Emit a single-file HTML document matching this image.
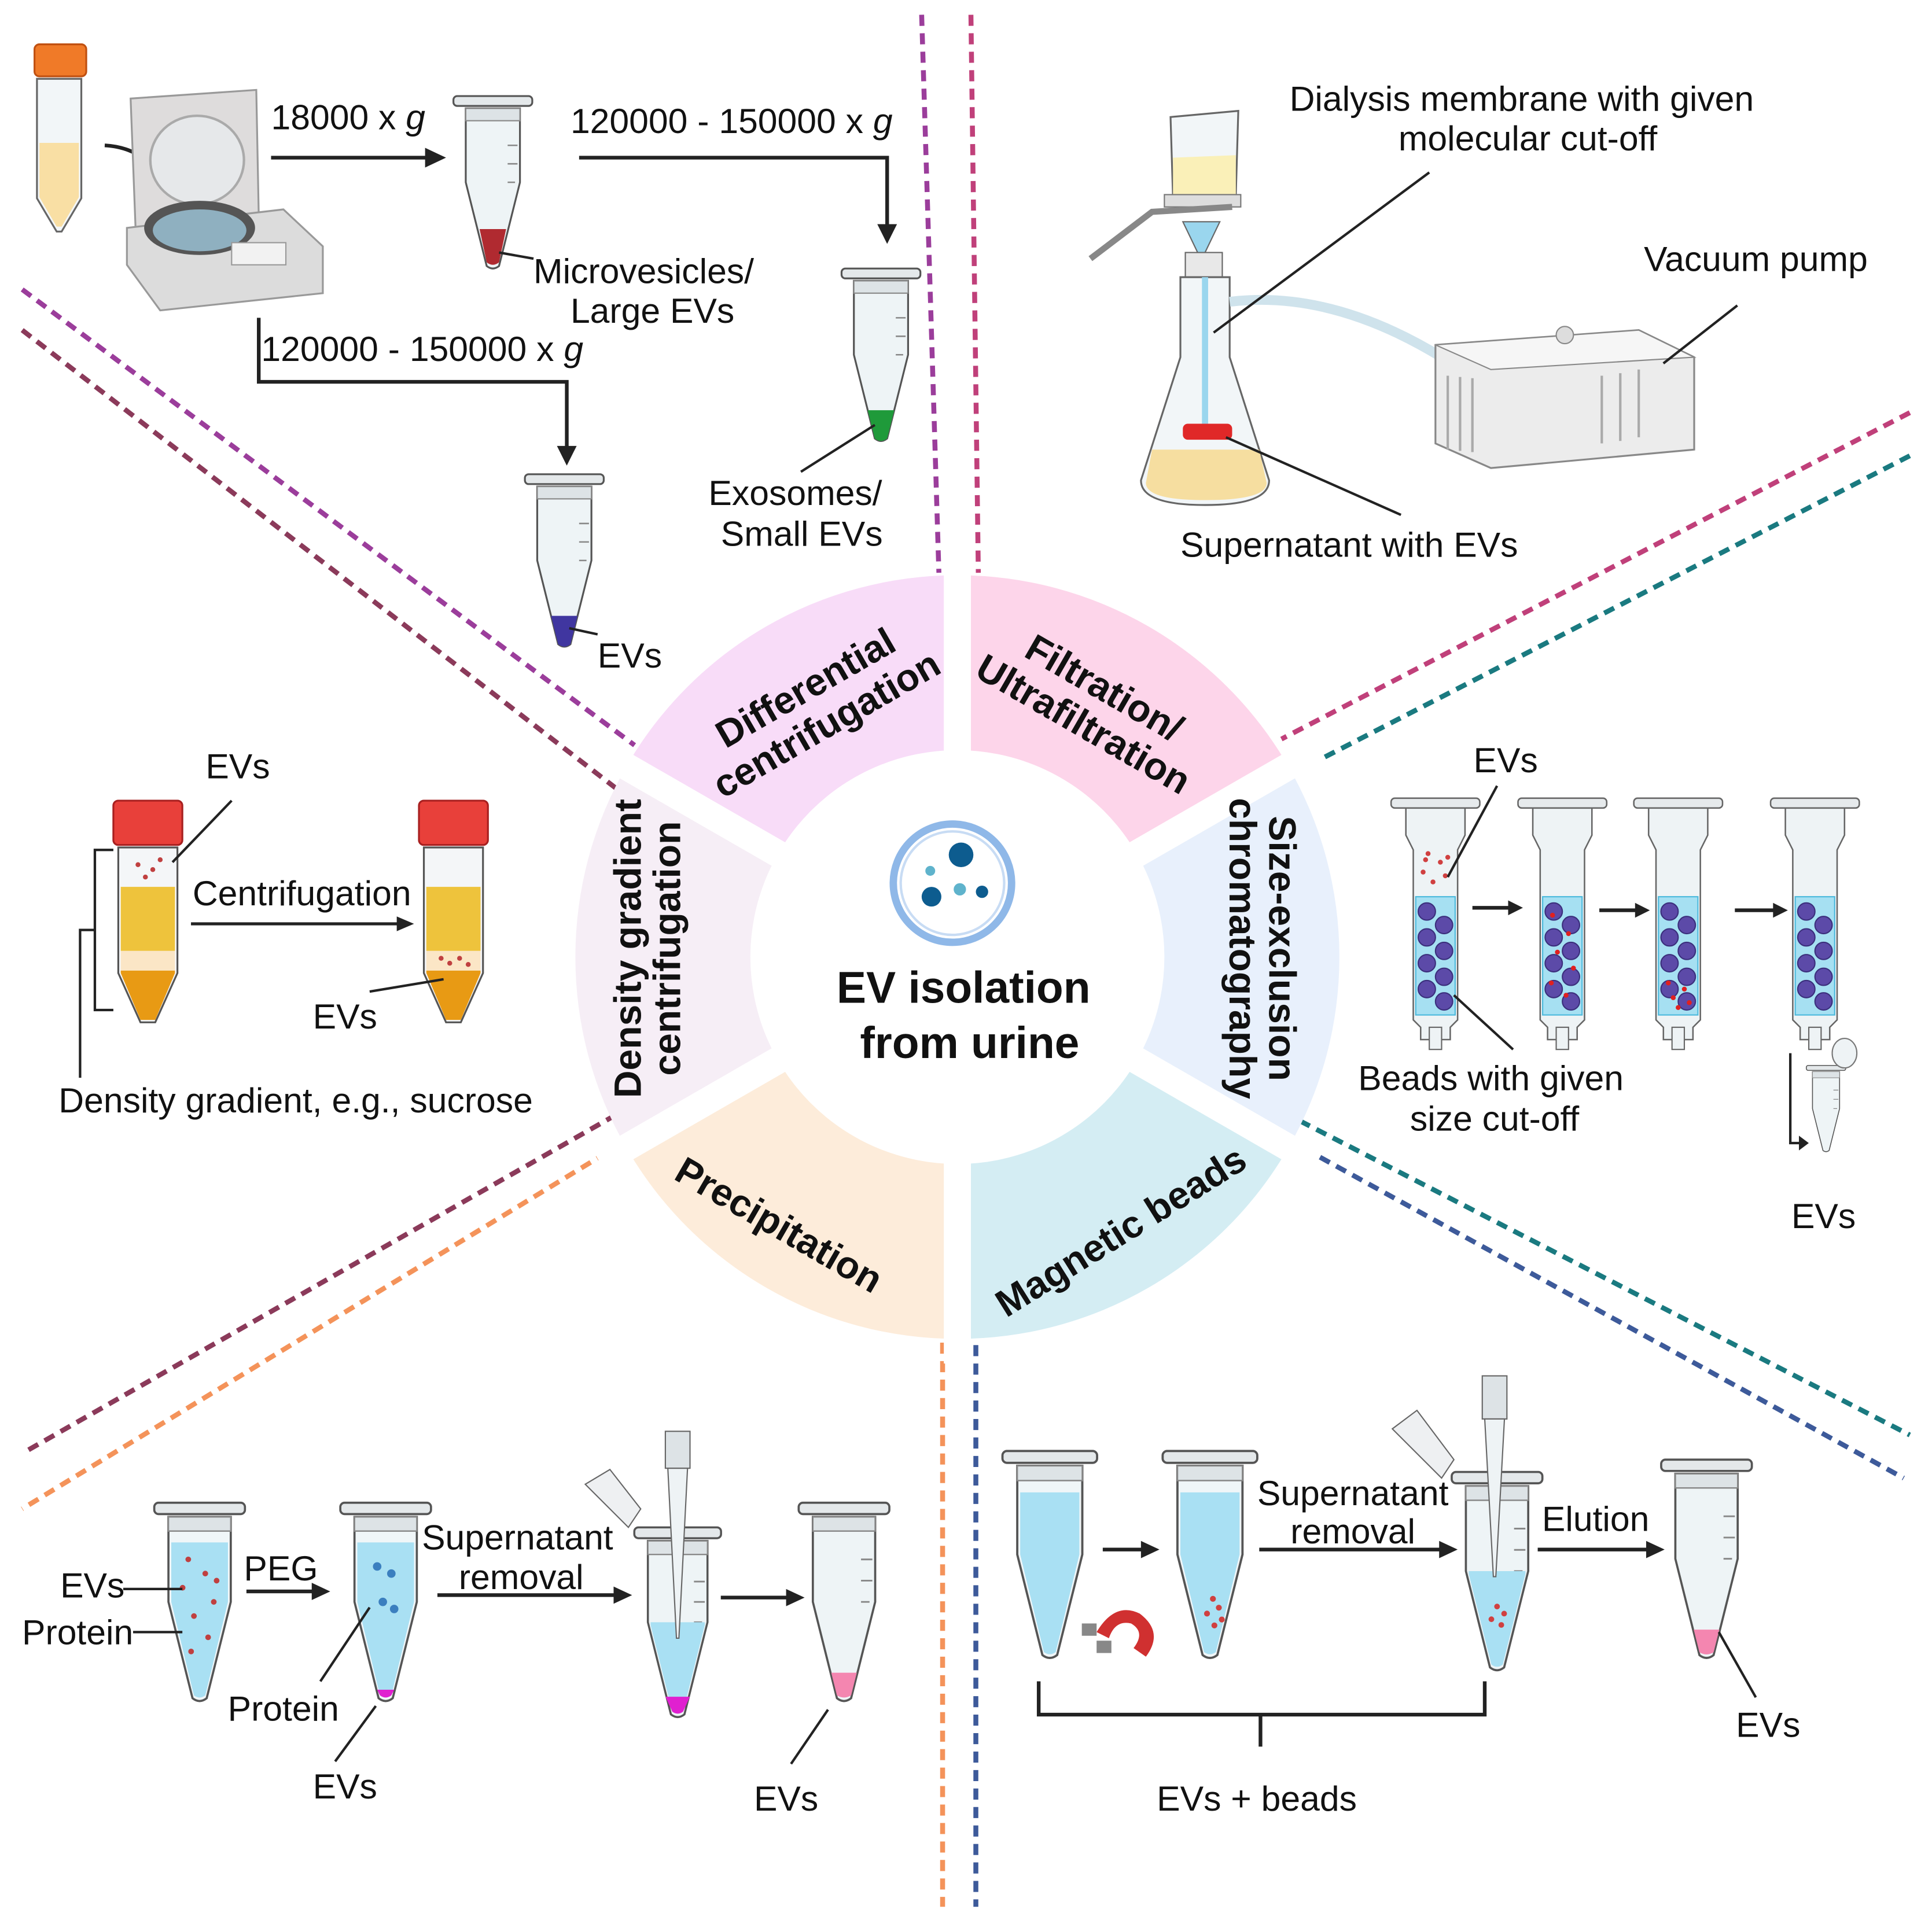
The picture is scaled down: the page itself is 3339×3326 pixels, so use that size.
<!DOCTYPE html>
<html><head><meta charset="utf-8">
<style>
html,body{margin:0;padding:0;background:#fff}
svg{display:block}
text{font-family:"Liberation Sans",sans-serif;fill:#111}
.l{font-size:28.5px}
.w{font-size:31px;font-weight:bold}
</style></head>
<body>
<svg width="3339" height="3326" viewBox="0 0 1568 1562" preserveAspectRatio="none" xmlns="http://www.w3.org/2000/svg">
<defs>
<g id="mt">
 <rect x="-32" y="0" width="64" height="8" rx="3" fill="#e4e8ea" stroke="#555" stroke-width="1.5"/>
 <path d="M-22,10 L22,10 L22,70 L5,138 Q0,142 -5,138 L-22,70 Z" fill="#eef4f6" stroke="#555" stroke-width="1.5"/>
 <rect x="-22" y="10" width="44" height="10" fill="#dde3e6" stroke="#888" stroke-width="1"/>
 <path d="M12,40h8M12,55h8M12,70h6" stroke="#888" stroke-width="1.2"/>
</g>
<g id="bt">
 <path d="M-22,10 L22,10 L22,70 L5,138 Q0,142 -5,138 L-22,70 Z" fill="#f0f6f8" stroke="#555" stroke-width="1.5"/>
 <path d="M-20,28 L20,28 L20,70 L4,136 Q0,139 -4,136 L-20,70 Z" fill="#a9e0f3"/>
 <rect x="-32" y="0" width="64" height="8" rx="3" fill="#e4e8ea" stroke="#555" stroke-width="1.5"/>
 <rect x="-22" y="10" width="44" height="10" fill="#dde3e6" stroke="#888" stroke-width="1"/>
</g>
<g id="col">
 <rect x="-36" y="0" width="72" height="8" rx="3" fill="#e6eaec" stroke="#666" stroke-width="1.2"/>
 <path d="M-24,8 L24,8 L24,30 L18,42 L18,180 L12,186 L12,196 L-12,196 L-12,186 L-18,180 L-18,42 L-24,30Z" fill="#eef3f5" stroke="#666" stroke-width="1.2"/>
 <rect x="-16" y="80" width="32" height="96" fill="#a6e0f2" stroke="#4bb9dc" stroke-width="1"/>
 <rect x="-5" y="186" width="10" height="18" fill="#eef3f5" stroke="#666" stroke-width="1"/>
</g>
<g id="beads" fill="#5c4aa8" stroke="#3b2f7c" stroke-width="1">
 <circle cx="-7" cy="92" r="7"/><circle cx="7" cy="103" r="7"/><circle cx="-7" cy="113" r="7"/><circle cx="7" cy="124" r="7"/><circle cx="-7" cy="134" r="7"/><circle cx="7" cy="145" r="7"/><circle cx="-7" cy="155" r="7"/><circle cx="7" cy="165" r="7"/>
</g>
<g id="fal">
 <rect x="-28" y="0" width="56" height="36" rx="4" fill="#e8403a" stroke="#a82020" stroke-width="1.5"/>
 <path d="M-24,38 L24,38 L24,140 L6,180 L-6,180 L-24,140Z" fill="#f4f6f8" stroke="#555" stroke-width="1.5"/>
</g>
</defs>

<g fill="none" stroke-width="4" stroke-dasharray="9 6">
 <line x1="748" y1="12" x2="762" y2="465" stroke="#9b3d9b"/>
 <line x1="788" y1="12" x2="794" y2="465" stroke="#c0407a"/>
 <line x1="765" y1="1090" x2="765" y2="1548" stroke="#f4935a"/>
 <line x1="792" y1="1092" x2="792" y2="1548" stroke="#3d5a9a"/>
 <line x1="18" y1="235" x2="515" y2="605" stroke="#9b3d9b"/>
 <line x1="18" y1="268" x2="500" y2="640" stroke="#8b3a5a"/>
 <line x1="1550" y1="335" x2="1040" y2="600" stroke="#c0407a"/>
 <line x1="1550" y1="370" x2="1055" y2="625" stroke="#1a7a80"/>
 <line x1="1055" y1="910" x2="1550" y2="1165" stroke="#1a7a80"/>
 <line x1="1045" y1="925" x2="1545" y2="1200" stroke="#3d5a9a"/>
 <line x1="500" y1="905" x2="18" y2="1180" stroke="#8b3a5a"/>
 <line x1="505" y1="928" x2="18" y2="1225" stroke="#f4935a"/>
</g>

<g transform="translate(777,777)">
 <path d="M0,-310 A310,310 0 0 0 -268.5,-155 L0,0Z" fill="#f8dcf8"/>
 <path d="M0,-310 A310,310 0 0 1 268.5,-155 L0,0Z" fill="#fdd5ea"/>
 <path d="M268.5,-155 A310,310 0 0 1 268.5,155 L0,0Z" fill="#e8f0fc"/>
 <path d="M268.5,155 A310,310 0 0 1 0,310 L0,0Z" fill="#d4edf3"/>
 <path d="M0,310 A310,310 0 0 1 -268.5,155 L0,0Z" fill="#fdecda"/>
 <path d="M-268.5,155 A310,310 0 0 1 -268.5,-155 L0,0Z" fill="#f6eef6"/>
 <g stroke="#fff" stroke-width="22">
  <line x1="0" y1="0" x2="0" y2="-330"/><line x1="0" y1="0" x2="0" y2="330"/>
  <line x1="0" y1="0" x2="290" y2="-167"/><line x1="0" y1="0" x2="290" y2="167"/>
  <line x1="0" y1="0" x2="-290" y2="-167"/><line x1="0" y1="0" x2="-290" y2="167"/>
 </g>
 <circle r="168" fill="#fff"/>
 <circle cx="-4" cy="-60" r="48" fill="#fff" stroke="#8fb8e8" stroke-width="6"/>
 <circle cx="-4" cy="-60" r="42" fill="none" stroke="#c8dcf4" stroke-width="2"/>
 <circle cx="3" cy="-83" r="10" fill="#0d5c8f"/><circle cx="-21" cy="-49" r="8" fill="#0d5c8f"/><circle cx="20" cy="-53" r="5" fill="#0d5c8f"/><circle cx="-22" cy="-70" r="4" fill="#5fb3cc"/><circle cx="2" cy="-55" r="5" fill="#5fb3cc"/>
 <text x="5" y="37" text-anchor="middle" style="font-size:36px;font-weight:bold">EV isolation</text>
 <text x="10" y="82" text-anchor="middle" style="font-size:36px;font-weight:bold">from urine</text>
</g>
<g transform="translate(665,578) rotate(-30)"><text class="w" text-anchor="middle" y="-12">Differential</text><text class="w" text-anchor="middle" y="22">centrifugation</text></g>
<g transform="translate(885,578) rotate(30)"><text class="w" text-anchor="middle" y="-12">Filtration/</text><text class="w" text-anchor="middle" y="22">Ultrafiltration</text></g>
<g transform="translate(1020,770) rotate(90)"><text class="w" text-anchor="middle" y="-10">Size-exclusion</text><text class="w" text-anchor="middle" y="22">chromatography</text></g>
<g transform="translate(910,1000) rotate(-32)"><text class="w" text-anchor="middle" y="10">Magnetic beads</text></g>
<g transform="translate(632,995) rotate(30)"><text class="w" text-anchor="middle" y="10">Precipitation</text></g>
<g transform="translate(530,770) rotate(-90)"><text class="w" text-anchor="middle" y="-10">Density gradient</text><text class="w" text-anchor="middle" y="22">centrifugation</text></g>

<g transform="translate(48,36)">
 <rect x="-20" y="0" width="42" height="26" rx="4" fill="#f07a28" stroke="#c05010" stroke-width="1.5"/>
 <path d="M-18,28 L18,28 L18,125 L2,152 L-2,152 L-18,125Z" fill="#f2f6f8" stroke="#666" stroke-width="1.5"/>
 <path d="M-16,80 L16,80 L16,124 L2,148 L-2,148 L-16,124Z" fill="#f9dfa4"/>
</g>
<path d="M85,118 Q120,120 135,152" fill="none" stroke="#222" stroke-width="3"/>
<path d="M128,148 L140,160 L142,143Z" fill="#222"/>
<g>
 <path d="M106,80 L208,73 L210,175 L110,185Z" fill="#dedcdc" stroke="#999" stroke-width="1.5"/>
 <ellipse cx="160" cy="130" rx="38" ry="36" fill="#e6e8ea" stroke="#aaa" stroke-width="2"/>
 <path d="M103,185 L230,170 L262,200 L262,238 L130,252 L103,215Z" fill="#dcdcdc" stroke="#999" stroke-width="1.5"/>
 <ellipse cx="162" cy="185" rx="45" ry="22" fill="#555"/>
 <ellipse cx="162" cy="187" rx="38" ry="17" fill="#8fb0c0"/>
 <rect x="188" y="197" width="44" height="18" fill="#f2f2f2" stroke="#999"/>
</g>
<text class="l" x="220" y="105">18000 x <tspan font-style="italic">g</tspan></text>
<line x1="220" y1="128" x2="348" y2="128" stroke="#222" stroke-width="3"/><path d="M345,120 L362,128 L345,136Z" fill="#222"/>
<g transform="translate(400,78)"><use href="#mt"/><path d="M-10.75,108 L10.75,108 L5,135 Q0,139 -5,135Z" fill="#b02a30"/></g>
<line x1="405" y1="205" x2="433" y2="210" stroke="#222" stroke-width="2"/>
<text class="l" x="433" y="230">Microvesicles/</text>
<text class="l" x="463" y="262">Large EVs</text>
<text class="l" x="463" y="108">120000 - 150000 x <tspan font-style="italic">g</tspan></text>
<path d="M470,128 L720,128 L720,185" fill="none" stroke="#222" stroke-width="3"/><path d="M712,182 L720,198 L728,182Z" fill="#222"/>
<g transform="translate(715,218)"><use href="#mt"/><path d="M-10.75,115 L10.75,115 L5,138 Q0,142 -5,138Z" fill="#1f9a3a"/></g>
<line x1="710" y1="345" x2="650" y2="383" stroke="#222" stroke-width="2"/>
<text class="l" x="575" y="410">Exosomes/</text>
<text class="l" x="585" y="443">Small EVs</text>
<path d="M210,258 L210,310 L460,310 L460,365" fill="none" stroke="#222" stroke-width="3"/><path d="M452,362 L460,378 L468,362Z" fill="#222"/>
<text class="l" x="212" y="293">120000 - 150000 x <tspan font-style="italic">g</tspan></text>
<g transform="translate(458,385)"><use href="#mt"/><path d="M-10.75,115 L10.75,115 L5,138 Q0,142 -5,138Z" fill="#4036a0"/></g>
<line x1="462" y1="510" x2="485" y2="515" stroke="#222" stroke-width="2"/>
<text class="l" x="485" y="542">EVs</text>

<g>
 <path d="M950,95 L1005,90 L1003,158 L952,160Z" fill="#f2f6f8" stroke="#666" stroke-width="1.5"/>
 <path d="M952,128 L1003,126 L1003,158 L952,160Z" fill="#faf0b8"/>
 <rect x="945" y="158" width="62" height="10" fill="#ddd" stroke="#777"/>
 <path d="M885,210 L935,172 L1000,168" fill="none" stroke="#888" stroke-width="5"/>
 <path d="M960,180 L990,180 L978,205 L972,205Z" fill="#9ad6ee" stroke="#666"/>
 <rect x="962" y="205" width="30" height="20" fill="#e8e8e8" stroke="#666"/>
 <path d="M958,225 L998,225 L998,290 L1030,390 Q1030,410 978,410 Q926,410 926,390 L958,290Z" fill="#f2f6f8" stroke="#666" stroke-width="1.5"/>
 <path d="M935,365 L1022,365 L1028,392 Q1028,406 978,406 Q930,406 930,392Z" fill="#f6dea0"/>
 <line x1="978" y1="225" x2="978" y2="345" stroke="#9ad6ee" stroke-width="5"/>
 <rect x="960" y="344" width="40" height="13" rx="4" fill="#e02828"/>
 <path d="M998,245 Q1080,235 1170,290" fill="none" stroke="#cfe3ec" stroke-width="8"/>
 <path d="M1165,280 L1330,268 L1375,290 L1375,365 L1210,380 L1165,360Z" fill="#ececec" stroke="#888" stroke-width="1.5"/>
 <path d="M1165,280 L1330,268 L1375,290 L1210,300Z" fill="#f6f6f6" stroke="#888"/>
 <path d="M1175,305 v60 M1185,306 v60 M1195,307 v60 M1300,305 v55 M1315,303 v55 M1330,300 v55" stroke="#aaa" stroke-width="2"/>
 <circle cx="1270" cy="272" r="7" fill="#ddd" stroke="#888"/>
</g>
<text class="l" x="1235" y="90" text-anchor="middle">Dialysis membrane with given</text>
<text class="l" x="1240" y="122" text-anchor="middle">molecular cut-off</text>
<line x1="1160" y1="140" x2="985" y2="270" stroke="#222" stroke-width="2"/>
<text class="l" x="1425" y="220" text-anchor="middle">Vacuum pump</text>
<line x1="1410" y1="248" x2="1350" y2="295" stroke="#222" stroke-width="2"/>
<line x1="995" y1="355" x2="1137" y2="418" stroke="#222" stroke-width="2"/>
<text class="l" x="1095" y="452" text-anchor="middle">Supernatant with EVs</text>

<g transform="translate(1165,648)"><use href="#col"/><use href="#beads"/>
 <g fill="#d04040"><circle cx="-6" cy="45" r="2"/><circle cx="4" cy="52" r="2"/><circle cx="-10" cy="60" r="2"/><circle cx="8" cy="63" r="2"/><circle cx="-2" cy="68" r="2"/><circle cx="-8" cy="50" r="2"/><circle cx="10" cy="48" r="2"/></g></g>
<g transform="translate(1268,648)"><use href="#col"/><use href="#beads"/>
 <g fill="#e02020"><circle cx="-8" cy="95" r="2"/><circle cx="5" cy="110" r="2"/><circle cx="-4" cy="125" r="2"/><circle cx="9" cy="138" r="2"/><circle cx="-9" cy="150" r="2"/><circle cx="3" cy="160" r="2"/></g></g>
<g transform="translate(1362,648)"><use href="#col"/><use href="#beads"/>
 <g fill="#e02020"><circle cx="-8" cy="150" r="2"/><circle cx="5" cy="155" r="2"/><circle cx="-4" cy="162" r="2"/><circle cx="9" cy="166" r="2"/><circle cx="0" cy="170" r="2"/></g></g>
<g transform="translate(1473,648)"><use href="#col"/><use href="#beads"/></g>
<g stroke="#222" stroke-width="3"><line x1="1195" y1="737" x2="1225" y2="737"/><line x1="1298" y1="739" x2="1328" y2="739"/><line x1="1408" y1="739" x2="1440" y2="739"/></g>
<g fill="#222"><path d="M1224,731 L1236,737 L1224,743Z"/><path d="M1327,733 L1339,739 L1327,745Z"/><path d="M1439,733 L1451,739 L1439,745Z"/></g>
<text class="l" x="1222" y="627" text-anchor="middle">EVs</text>
<line x1="1215" y1="638" x2="1175" y2="712" stroke="#222" stroke-width="2"/>
<line x1="1228" y1="852" x2="1180" y2="808" stroke="#222" stroke-width="2"/>
<text class="l" x="1210" y="885" text-anchor="middle">Beads with given</text>
<text class="l" x="1213" y="918" text-anchor="middle">size cut-off</text>
<g transform="translate(1482,865) scale(0.5)"><use href="#mt"/></g>
<ellipse cx="1497" cy="855" rx="10" ry="12" fill="#eef3f5" stroke="#777"/>
<path d="M1453,855 L1453,928 L1462,928" fill="none" stroke="#222" stroke-width="2"/><path d="M1460,922 L1468,928 L1460,934Z" fill="#222"/>
<text class="l" x="1480" y="997" text-anchor="middle">EVs</text>

<g transform="translate(120,650)"><use href="#fal"/>
 <rect x="-22" y="70" width="44" height="52" fill="#eec33c"/><rect x="-22" y="122" width="44" height="16" fill="#fbe6c6"/><path d="M-22,138 L22,138 L22,140 L6,178 L-6,178 L-22,140Z" fill="#e89a14"/>
 <g fill="#c04040"><circle cx="-8" cy="52" r="2"/><circle cx="4" cy="56" r="2"/><circle cx="-2" cy="62" r="2"/><circle cx="10" cy="48" r="2"/></g></g>
<g transform="translate(368,650)"><use href="#fal"/>
 <rect x="-22" y="70" width="44" height="52" fill="#eec33c"/><rect x="-22" y="122" width="44" height="16" fill="#fbe6c6"/><path d="M-22,138 L22,138 L22,140 L6,178 L-6,178 L-22,140Z" fill="#e89a14"/>
 <g fill="#c04040"><circle cx="-10" cy="128" r="2"/><circle cx="-3" cy="132" r="2"/><circle cx="5" cy="128" r="2"/><circle cx="12" cy="133" r="2"/></g></g>
<path d="M92,690 L77,690 L77,820 L92,820" fill="none" stroke="#222" stroke-width="2"/>
<path d="M77,755 L65,755 L65,875" fill="none" stroke="#222" stroke-width="2"/>
<text class="l" x="193" y="632" text-anchor="middle">EVs</text>
<line x1="188" y1="650" x2="140" y2="700" stroke="#222" stroke-width="2"/>
<text class="l" x="245" y="735" text-anchor="middle">Centrifugation</text>
<line x1="155" y1="750" x2="325" y2="750" stroke="#222" stroke-width="2.5"/><path d="M322,744 L336,750 L322,756Z" fill="#222"/>
<text class="l" x="280" y="835" text-anchor="middle">EVs</text>
<line x1="300" y1="805" x2="360" y2="795" stroke="#222" stroke-width="2"/>
<text class="l" x="240" y="903" text-anchor="middle">Density gradient, e.g., sucrose</text>

<g transform="translate(162,1220) scale(1.15)"><use href="#bt"/>
 <g fill="#c04040"><circle cx="-8" cy="40" r="2"/><circle cx="4" cy="50" r="2"/><circle cx="-12" cy="60" r="2"/><circle cx="10" cy="70" r="2"/><circle cx="-4" cy="80" r="2"/><circle cx="6" cy="95" r="2"/><circle cx="-6" cy="105" r="2"/><circle cx="12" cy="55" r="2"/></g></g>
<g transform="translate(313,1220) scale(1.15)"><use href="#bt"/>
 <path d="M-6,132 L6,132 L4,136 Q0,139 -4,136Z" fill="#e020d0"/>
 <g fill="#3b7fbf"><circle cx="-6" cy="45" r="3"/><circle cx="4" cy="50" r="3"/><circle cx="-2" cy="70" r="3"/><circle cx="6" cy="75" r="3"/></g></g>
<text class="l" x="75" y="1297" text-anchor="middle">EVs</text><line x1="100" y1="1290" x2="148" y2="1290" stroke="#222" stroke-width="2"/>
<text class="l" x="63" y="1335" text-anchor="middle">Protein</text><line x1="108" y1="1325" x2="148" y2="1325" stroke="#222" stroke-width="2"/>
<text class="l" x="228" y="1283" text-anchor="middle">PEG</text>
<line x1="200" y1="1292" x2="255" y2="1292" stroke="#222" stroke-width="3"/><path d="M253,1285 L268,1292 L253,1299Z" fill="#222"/>
<line x1="260" y1="1365" x2="300" y2="1305" stroke="#222" stroke-width="2"/>
<text class="l" x="230" y="1397" text-anchor="middle">Protein</text>
<line x1="272" y1="1430" x2="305" y2="1385" stroke="#222" stroke-width="2"/>
<text class="l" x="280" y="1460" text-anchor="middle">EVs</text>
<text class="l" x="420" y="1258" text-anchor="middle">Supernatant</text>
<text class="l" x="423" y="1290" text-anchor="middle">removal</text>
<line x1="355" y1="1295" x2="500" y2="1295" stroke="#222" stroke-width="3"/><path d="M498,1288 L513,1295 L498,1302Z" fill="#222"/>
<g transform="translate(550,1240) scale(1.1)"><use href="#mt"/><path d="M-20,70 L20,70 L20,72 L4,136 Q0,139 -4,136 L-20,72Z" fill="#a9e0f3"/><path d="M-9,125 L9,125 L4,136 Q0,139 -4,136Z" fill="#e020d0"/></g>
<rect x="540" y="1162" width="20" height="30" fill="#dde3e6" stroke="#666"/><path d="M542,1192 L558,1192 L551,1330 L549,1330Z" fill="#eef3f5" stroke="#666"/>
<path d="M475,1205 L495,1193 L520,1225 L510,1240Z" fill="#eef0f2" stroke="#666"/>
<line x1="585" y1="1297" x2="640" y2="1297" stroke="#222" stroke-width="3"/><path d="M638,1290 L653,1297 L638,1304Z" fill="#222"/>
<g transform="translate(685,1220) scale(1.15)"><use href="#mt"/><path d="M-9,120 L9,120 L5,136 Q0,139 -5,136Z" fill="#f486b0"/></g>
<line x1="642" y1="1432" x2="672" y2="1388" stroke="#222" stroke-width="2"/>
<text class="l" x="638" y="1470" text-anchor="middle">EVs</text>

<g transform="translate(852,1178) scale(1.2)"><use href="#bt"/></g>
<g transform="translate(982,1178) scale(1.2)"><use href="#bt"/>
 <g fill="#d04040"><circle cx="2" cy="100" r="2"/><circle cx="6" cy="106" r="2"/><circle cx="-2" cy="110" r="2"/><circle cx="8" cy="114" r="2"/><circle cx="3" cy="118" r="2"/></g></g>
<path d="M890,1325 Q905,1300 925,1310 Q945,1325 930,1345 L920,1338 Q930,1325 918,1318 Q905,1315 900,1330Z" fill="#d03030"/>
<rect x="878" y="1318" width="12" height="10" fill="#888"/><rect x="890" y="1332" width="12" height="10" fill="#888"/>
<line x1="895" y1="1258" x2="928" y2="1258" stroke="#222" stroke-width="3"/><path d="M926,1251 L941,1258 L926,1265Z" fill="#222"/>
<text class="l" x="1098" y="1222" text-anchor="middle">Supernatant</text>
<text class="l" x="1098" y="1253" text-anchor="middle">removal</text>
<line x1="1022" y1="1258" x2="1170" y2="1258" stroke="#222" stroke-width="3"/><path d="M1168,1251 L1183,1258 L1168,1265Z" fill="#222"/>
<g transform="translate(1215,1195) scale(1.15)"><use href="#mt"/><path d="M-20,70 L20,70 L20,72 L4,136 Q0,139 -4,136 L-20,72Z" fill="#a9e0f3"/>
 <g fill="#d04040"><circle cx="0" cy="95" r="2"/><circle cx="5" cy="100" r="2"/><circle cx="-4" cy="104" r="2"/><circle cx="3" cy="108" r="2"/></g></g>
<rect x="1203" y="1117" width="20" height="35" fill="#dde3e6" stroke="#666"/><path d="M1205,1152 L1221,1152 L1214,1280 L1212,1280Z" fill="#eef3f5" stroke="#666"/>
<path d="M1130,1160 L1150,1145 L1180,1185 L1170,1200Z" fill="#eef0f2" stroke="#666"/>
<text class="l" x="1295" y="1243" text-anchor="middle">Elution</text>
<line x1="1248" y1="1258" x2="1338" y2="1258" stroke="#222" stroke-width="3"/><path d="M1336,1251 L1351,1258 L1336,1265Z" fill="#222"/>
<g transform="translate(1385,1185) scale(1.15)"><use href="#mt"/><path d="M-9,120 L9,120 L5,136 Q0,139 -5,136Z" fill="#f486b0"/></g>
<line x1="1425" y1="1378" x2="1395" y2="1325" stroke="#222" stroke-width="2"/>
<text class="l" x="1435" y="1410" text-anchor="middle">EVs</text>
<path d="M843,1365 L843,1392 L1205,1392 L1205,1365 M1023,1392 L1023,1418" fill="none" stroke="#222" stroke-width="3"/>
<text class="l" x="1020" y="1470" text-anchor="middle">EVs + beads</text>
</svg>
</body></html>
